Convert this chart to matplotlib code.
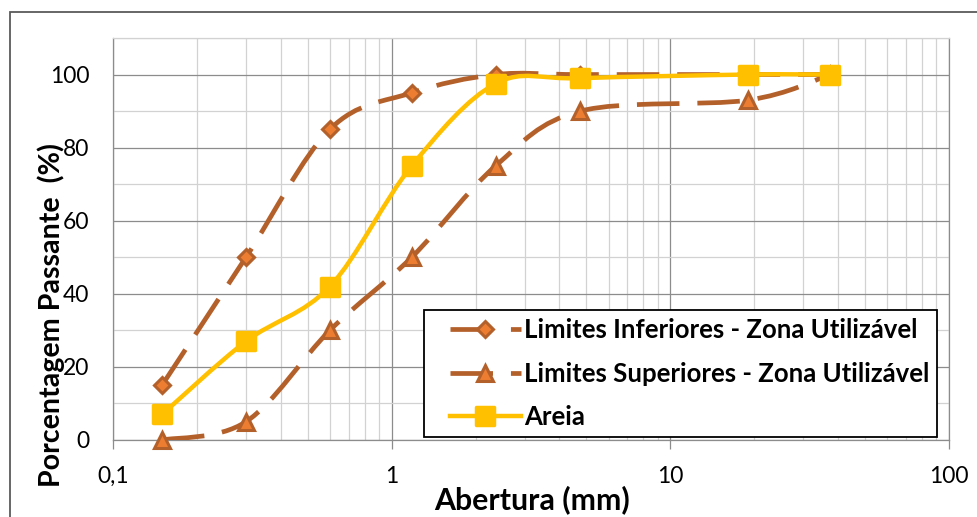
import numpy as np
import matplotlib
matplotlib.use('Agg')
import matplotlib.pyplot as plt
from matplotlib.path import Path
from matplotlib.patches import PathPatch, Rectangle
from matplotlib.lines import Line2D
from matplotlib.markers import MarkerStyle
from matplotlib.legend_handler import HandlerLine2D
from matplotlib.ticker import FixedLocator, FixedFormatter, NullFormatter

# dados (abertura das peneiras em mm, % passante)
abertura = [0.15, 0.3, 0.6, 1.18, 2.36, 4.75, 19, 37.5]
lim_inferior = [15, 50, 85, 95, 100, 100, 100, 100]
lim_superior = [0, 5, 30, 50, 75, 90, 93, 100]
areia = [7, 27, 42, 75, 97.5, 99, 100, 100]

nomes = ['Limites Inferiores - Zona Utilizável',
         'Limites Superiores - Zona Utilizável',
         'Areia']
xticks = [0.1, 1, 10, 100]
xtick_labels = ['0,1', '1', '10', '100']
yticks = [0, 20, 40, 60, 80, 100]

marrom = '#B4602B'
laranja = '#ED7D31'
amarelo = '#FFC000'
grade_forte = '#8C8C8C'
grade_fraca = '#D2D2D2'

plt.rcParams['font.family'] = ['Lato', 'DejaVu Sans']

W, H = 978, 517


def curva_suave(xs, ys):
    # curva suavizada estilo Excel (Catmull-Rom em escala log)
    p = np.column_stack([np.log10(xs), ys]).astype(float)
    n = len(p)
    verts = [p[0]]
    codes = [Path.MOVETO]
    for i in range(n - 1):
        p0 = p[max(i - 1, 0)]
        p1 = p[i]
        p2 = p[i + 1]
        p3 = p[min(i + 2, n - 1)]
        verts += [p1 + (p2 - p0) / 6, p2 - (p3 - p1) / 6, p2]
        codes += [Path.CURVE4] * 3
    verts = np.array(verts)
    verts[:, 0] = 10 ** verts[:, 0]
    return Path(verts, codes)


fig = plt.figure(figsize=(W / 100, H / 100), dpi=100)
ax = fig.add_axes([113 / W, 1 - 440 / H, (949 - 113) / W, (440 - 38) / H])

# borda externa do grafico
fig.patches.append(Rectangle((10 / W, -0.5), 2, (1 - 12 / H) + 0.5,
                             transform=fig.transFigure, fill=False,
                             edgecolor='#5A5A5A', lw=1.3, zorder=0))

ax.set_xscale('log')
ax.set_xlim(0.1, 100)
ax.set_ylim(0, 110)

ax.xaxis.set_major_locator(FixedLocator(xticks))
ax.xaxis.set_major_formatter(FixedFormatter(xtick_labels))
menores = [m * d for d in [0.1, 1, 10] for m in range(2, 10)]
ax.xaxis.set_minor_locator(FixedLocator(menores))
ax.xaxis.set_minor_formatter(NullFormatter())
ax.yaxis.set_major_locator(FixedLocator(yticks))
ax.yaxis.set_minor_locator(FixedLocator([10, 30, 50, 70, 90, 110]))

ax.grid(True, which='major', color=grade_forte, lw=0.9, zorder=0)
ax.grid(True, which='minor', color=grade_fraca, lw=0.9, zorder=0)
ax.set_axisbelow(True)

ax.tick_params(axis='x', which='major', length=6.5, width=0.9, color=grade_forte,
               pad=12, labelsize=16.5)
ax.tick_params(axis='x', which='minor', length=0)
ax.tick_params(axis='y', which='both', length=0, pad=17, labelsize=16.5)

for lado in ['left', 'right', 'bottom']:
    ax.spines[lado].set_color(grade_forte)
    ax.spines[lado].set_linewidth(0.9)
ax.spines['top'].set_color(grade_fraca)
ax.spines['top'].set_linewidth(0.9)

tracejado = (0, (9, 3.8))
quadrado = MarkerStyle('s', joinstyle='round')

# Limites inferiores
ax.add_patch(PathPatch(curva_suave(abertura, lim_inferior), fill=False,
                       edgecolor=marrom, lw=3.4, linestyle=tracejado,
                       capstyle='butt', zorder=3))
ax.plot(abertura, lim_inferior, linestyle='none', marker='D', markersize=8.5,
        markerfacecolor=laranja, markeredgecolor=marrom, markeredgewidth=2.2,
        zorder=4, clip_on=False)

# Limites superiores
ax.add_patch(PathPatch(curva_suave(abertura, lim_superior), fill=False,
                       edgecolor=marrom, lw=3.4, linestyle=tracejado,
                       capstyle='butt', zorder=3))
ax.plot(abertura, lim_superior, linestyle='none', marker='^', markersize=11,
        markerfacecolor=laranja, markeredgecolor=marrom, markeredgewidth=2.2,
        zorder=4, clip_on=False)

# Areia
ax.add_patch(PathPatch(curva_suave(abertura, areia), fill=False,
                       edgecolor=amarelo, lw=3.2, capstyle='round', zorder=5))
ax.plot(abertura, areia, linestyle='none', marker=quadrado, markersize=13,
        markerfacecolor=amarelo, markeredgecolor=amarelo, markeredgewidth=2.5,
        zorder=6, clip_on=False)

handles = [
    Line2D([], [], color=marrom, lw=3.4, linestyle=tracejado, marker='D',
           markersize=8.5, markerfacecolor=laranja, markeredgecolor=marrom,
           markeredgewidth=2.2),
    Line2D([], [], color=marrom, lw=3.4, linestyle=tracejado, marker='^',
           markersize=11, markerfacecolor=laranja, markeredgecolor=marrom,
           markeredgewidth=2.2),
    Line2D([], [], color=amarelo, lw=3.2, marker=quadrado, markersize=13,
           markerfacecolor=amarelo, markeredgecolor=amarelo, markeredgewidth=2.5),
]

fs_leg = 18.5
fs_px = fs_leg * 100 / 72
bp = 0.3
xpad = (26 - bp * fs_px) / fs_px
hlen = (97 - bp * fs_px) / fs_px
leg = ax.legend(handles, nomes, loc='lower left',
                bbox_to_anchor=(424 / W, 1 - 437 / H), bbox_transform=fig.transFigure,
                prop={'weight': 'bold', 'size': fs_leg}, frameon=True, fancybox=False,
                framealpha=1, edgecolor='black', handlelength=hlen,
                handletextpad=0.12, labelspacing=0.77, borderpad=bp,
                borderaxespad=0, numpoints=1,
                handler_map={Line2D: HandlerLine2D(xpad=xpad)})
leg.get_frame().set_linewidth(1.3)
leg.set_zorder(10)

fig.text(532 / W, 1 - 500 / H, 'Abertura (mm)', ha='center', va='center',
         fontsize=21.8, fontweight='bold')
fig.text(51 / W, 1 - 315 / H, 'Porcentagem Passante  (%)', ha='center',
         va='center', rotation=90, fontsize=20.6, fontweight='bold')

fig.savefig('out.png', dpi=100)
